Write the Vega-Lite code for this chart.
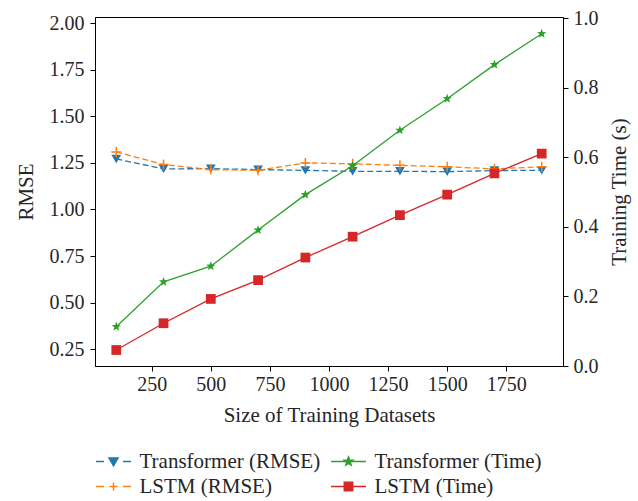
{
  "$schema": "https://vega.github.io/schema/vega-lite/v6.json",
  "width": 468,
  "height": 349,
  "autosize": {"type": "none"},
  "padding": {"left": 95, "top": 17, "right": 75, "bottom": 135},
  "background": "white",
  "config": {
    "font": "Liberation Serif",
    "view": {"stroke": "#000000", "strokeWidth": 1},
    "axis": {
      "grid": false,
      "labelFont": "Liberation Serif",
      "titleFont": "Liberation Serif",
      "labelFontSize": 20,
      "titleFontSize": 21,
      "titleFontWeight": "normal",
      "labelColor": "#262626",
      "titleColor": "#262626",
      "domainColor": "#000000",
      "tickColor": "#000000",
      "tickSize": 5,
      "labelPadding": 5
    },
    "legend": {"labelFont": "Liberation Serif", "labelFontSize": 21, "labelColor": "#262626"}
  },
  "data": {
    "values": [
      {"x": 100, "series": "Transformer (RMSE)", "value": 1.271},
      {"x": 300, "series": "Transformer (RMSE)", "value": 1.218},
      {"x": 500, "series": "Transformer (RMSE)", "value": 1.219},
      {"x": 700, "series": "Transformer (RMSE)", "value": 1.214},
      {"x": 900, "series": "Transformer (RMSE)", "value": 1.210},
      {"x": 1100, "series": "Transformer (RMSE)", "value": 1.205},
      {"x": 1300, "series": "Transformer (RMSE)", "value": 1.205},
      {"x": 1500, "series": "Transformer (RMSE)", "value": 1.203},
      {"x": 1700, "series": "Transformer (RMSE)", "value": 1.209},
      {"x": 1900, "series": "Transformer (RMSE)", "value": 1.210},
      {"x": 100, "series": "LSTM (RMSE)", "value": 1.309},
      {"x": 300, "series": "LSTM (RMSE)", "value": 1.241},
      {"x": 500, "series": "LSTM (RMSE)", "value": 1.214},
      {"x": 700, "series": "LSTM (RMSE)", "value": 1.210},
      {"x": 900, "series": "LSTM (RMSE)", "value": 1.250},
      {"x": 1100, "series": "LSTM (RMSE)", "value": 1.245},
      {"x": 1300, "series": "LSTM (RMSE)", "value": 1.237},
      {"x": 1500, "series": "LSTM (RMSE)", "value": 1.229},
      {"x": 1700, "series": "LSTM (RMSE)", "value": 1.218},
      {"x": 1900, "series": "LSTM (RMSE)", "value": 1.229},
      {"x": 100, "series": "Transformer (Time)", "value": 0.113},
      {"x": 300, "series": "Transformer (Time)", "value": 0.242},
      {"x": 500, "series": "Transformer (Time)", "value": 0.287},
      {"x": 700, "series": "Transformer (Time)", "value": 0.391},
      {"x": 900, "series": "Transformer (Time)", "value": 0.493},
      {"x": 1100, "series": "Transformer (Time)", "value": 0.576},
      {"x": 1300, "series": "Transformer (Time)", "value": 0.678},
      {"x": 1500, "series": "Transformer (Time)", "value": 0.769},
      {"x": 1700, "series": "Transformer (Time)", "value": 0.867},
      {"x": 1900, "series": "Transformer (Time)", "value": 0.956},
      {"x": 100, "series": "LSTM (Time)", "value": 0.046},
      {"x": 300, "series": "LSTM (Time)", "value": 0.123},
      {"x": 500, "series": "LSTM (Time)", "value": 0.193},
      {"x": 700, "series": "LSTM (Time)", "value": 0.247},
      {"x": 900, "series": "LSTM (Time)", "value": 0.312},
      {"x": 1100, "series": "LSTM (Time)", "value": 0.372},
      {"x": 1300, "series": "LSTM (Time)", "value": 0.434},
      {"x": 1500, "series": "LSTM (Time)", "value": 0.493},
      {"x": 1700, "series": "LSTM (Time)", "value": 0.554},
      {"x": 1900, "series": "LSTM (Time)", "value": 0.611}
    ]
  },
  "layer": [
    {
      "encoding": {
        "x": {
          "field": "x",
          "type": "quantitative",
          "scale": {"domain": [10, 1990], "nice": false, "zero": false},
          "axis": {"values": [250, 500, 750, 1000, 1250, 1500, 1750], "format": "d", "title": "Size of Training Datasets", "titlePadding": 10, "labelPadding": 3}
        },
        "y": {
          "field": "value",
          "type": "quantitative",
          "scale": {"domain": [0.16, 2.033], "nice": false, "zero": false},
          "axis": {"orient": "left", "values": [0.25, 0.5, 0.75, 1.0, 1.25, 1.5, 1.75, 2.0], "format": ".2f", "title": "RMSE", "titlePadding": 13, "labelPadding": 6}
        }
      },
      "layer": [
        {
          "transform": [{"filter": "datum.series === 'Transformer (RMSE)'"}],
          "mark": {"type": "line", "strokeWidth": 1.3, "strokeDash": [6, 3], "color": "#1f77b4"}
        },
        {
          "transform": [{"filter": "datum.series === 'LSTM (RMSE)'"}],
          "mark": {"type": "line", "strokeWidth": 1.3, "strokeDash": [6, 3], "color": "#ff7f0e"}
        },
        {
          "transform": [{"filter": "datum.series === 'Transformer (RMSE)'"}],
          "mark": {"type": "point", "shape": "triangle-down", "filled": true, "size": 95, "color": "#1f77b4", "opacity": 1}
        },
        {
          "transform": [{"filter": "datum.series === 'LSTM (RMSE)'"}],
          "mark": {"type": "point", "shape": "M-1,0H1M0,-1V1", "filled": false, "size": 100, "strokeWidth": 1.5, "color": "#ff7f0e", "opacity": 1}
        },
        {
          "transform": [{"filter": "datum.x === 100 && datum.series === 'LSTM (Time)'"}],
          "mark": {"type": "point", "filled": false, "clip": true, "opacity": 1},
          "encoding": {
            "shape": {"field": "series", "type": "nominal",
              "scale": {"domain": ["Transformer (RMSE)", "Transformer (Time)", "LSTM (RMSE)", "LSTM (Time)"],
                "range": [
                  "M-1.75,0H-0.95M0.95,0H1.75M-0.45,-0.35L0.45,-0.35L0,0.42ZM-0.29,-0.26L0.29,-0.26L0,0.24ZM-0.135,-0.17L0.135,-0.17L0,0.06Z",
                  "M-1.75,0H1.75M0,-0.45L0.112,-0.154L0.428,-0.139L0.181,0.059L0.265,0.364L0,0.19L-0.265,0.364L-0.181,0.059L-0.428,-0.139L-0.112,-0.154ZM0,-0.27L0.067,-0.092L0.257,-0.083L0.109,0.035L0.159,0.218L0,0.114L-0.159,0.218L-0.109,0.035L-0.257,-0.083L-0.067,-0.092ZM0,-0.11L0.028,-0.038L0.107,-0.035L0.045,0.015L0.066,0.091L0,0.048L-0.066,0.091L-0.045,0.015L-0.107,-0.035L-0.028,-0.038Z",
                  "M-1.75,0H-0.95M0.95,0H1.75M-0.4,0H0.4M0,-0.4V0.4",
                  "M-1.75,0H1.75M-0.42,-0.42H0.42V0.42H-0.42ZM-0.3,-0.3H0.3V0.3H-0.3ZM-0.18,-0.18H0.18V0.18H-0.18ZM-0.06,-0.06H0.06V0.06H-0.06Z"
                ]},
              "legend": {"title": null, "orient": "bottom", "direction": "horizontal", "columns": 2, "padding": 7.5, "symbolSize": 400, "symbolStrokeWidth": 1.5, "labelOffset": 15, "columnPadding": 7, "rowPadding": 4, "labelFont": "Liberation Serif", "labelFontSize": 21, "labelColor": "#262626", "labelLimit": 300}
            },
            "color": {"field": "series", "type": "nominal",
              "scale": {"domain": ["Transformer (RMSE)", "Transformer (Time)", "LSTM (RMSE)", "LSTM (Time)"], "range": ["#1f77b4", "#2ca02c", "#ff7f0e", "#d62728"]},
              "legend": {"title": null, "orient": "bottom", "direction": "horizontal", "columns": 2, "padding": 7.5, "symbolSize": 400, "symbolStrokeWidth": 1.5, "labelOffset": 15, "columnPadding": 7, "rowPadding": 4, "labelFont": "Liberation Serif", "labelFontSize": 21, "labelColor": "#262626", "labelLimit": 300}
            }
          }
        }
      ]
    },
    {
      "transform": [{"filter": "datum.series === 'Transformer (Time)' || datum.series === 'LSTM (Time)'"}],
      "encoding": {
        "x": {"field": "x", "type": "quantitative", "scale": {"domain": [10, 1990], "nice": false, "zero": false}},
        "y": {
          "field": "value",
          "type": "quantitative",
          "scale": {"domain": [0, 1.004], "nice": false, "zero": false},
          "axis": {"orient": "right", "values": [0, 0.2, 0.4, 0.6, 0.8, 1.0], "format": ".1f", "title": "Training Time (s)", "titleAngle": -90, "titleBaseline": "top", "titlePadding": 10, "labelPadding": 5}
        }
      },
      "layer": [
        {
          "transform": [{"filter": "datum.series === 'Transformer (Time)'"}],
          "mark": {"type": "line", "strokeWidth": 1.3, "color": "#2ca02c"}
        },
        {
          "transform": [{"filter": "datum.series === 'LSTM (Time)'"}],
          "mark": {"type": "line", "strokeWidth": 1.3, "color": "#d62728"}
        },
        {
          "transform": [{"filter": "datum.series === 'Transformer (Time)'"}],
          "mark": {"type": "point", "shape": "M0,-1L0.247,-0.34L0.951,-0.309L0.399,0.13L0.588,0.809L0,0.42L-0.588,0.809L-0.399,0.13L-0.951,-0.309L-0.247,-0.34Z", "filled": true, "size": 95, "color": "#2ca02c", "opacity": 1}
        },
        {
          "transform": [{"filter": "datum.series === 'LSTM (Time)'"}],
          "mark": {"type": "point", "shape": "square", "filled": true, "size": 95, "color": "#d62728", "opacity": 1}
        }
      ]
    }
  ],
  "resolve": {"scale": {"y": "independent"}}
}
